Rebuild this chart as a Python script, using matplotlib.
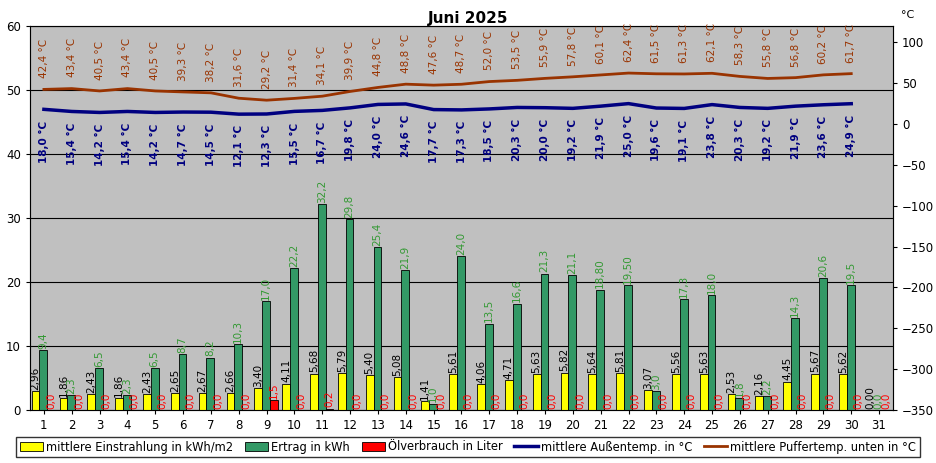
import matplotlib
matplotlib.use("Agg")
import matplotlib.pyplot as plt
import numpy as np

days = list(range(1, 32))
einstrahlung = [2.96,1.86,2.43,1.86,2.43,2.65,2.67,2.66,3.40,4.11,5.68,5.79,5.40,5.08,1.41,5.61,4.06,4.71,5.63,5.82,5.64,5.81,3.07,5.56,5.63,2.53,2.16,4.45,5.67,5.62,0.00]
ertrag = [9.4,2.3,6.5,2.3,6.5,8.7,8.2,10.3,17.0,22.2,32.2,29.8,25.4,21.9,1.0,24.0,13.5,16.6,21.3,21.1,18.80,19.50,3.0,17.3,18.0,1.8,2.2,14.3,20.6,19.5,0.0]
ertrag_lbl = ["9,4","2,3","6,5","2,3","6,5","8,7","8,2","10,3","17,0","22,2","32,2","29,8","25,4","21,9","1,0","24,0","13,5","16,6","21,3","21,1","18,80","19,50","3,0","17,3","18,0","1,8","2,2","14,3","20,6","19,5","0,0"]
oel = [0.0]*31
oel[8] = 1.5
oel[10] = 0.2
aussen = [18.0,15.4,14.2,15.4,14.2,14.7,14.5,12.1,12.3,15.5,16.7,19.8,24.0,24.6,17.7,17.3,18.5,20.3,20.0,19.2,21.9,25.0,19.6,19.1,23.8,20.3,19.2,21.9,23.6,24.9]
puffer = [42.4,43.4,40.5,43.4,40.5,39.3,38.2,31.6,29.2,31.4,34.1,39.9,44.8,48.8,47.6,48.7,52.0,53.5,55.9,57.8,60.1,62.4,61.5,61.3,62.1,58.3,55.8,56.8,60.2,61.7]

def de(v, n=1):
    return f"{v:.{n}f}".replace(".", ",")

fig = plt.figure(figsize=(9.36, 4.63), dpi=100)
ax = fig.add_axes([30/936, 1-410/463, 863/936, 384/463])
ax.set_facecolor("#C0C0C0")
x = np.array(days)
w = 0.28
ax.bar(x-0.3, einstrahlung, w, color="#FFFF00", edgecolor="black", linewidth=0.6, label="mittlere Einstrahlung in kWh/m2", zorder=3)
ax.bar(x-0.02, ertrag, w, color="#339966", edgecolor="black", linewidth=0.6, label="Ertrag in kWh", zorder=3)
ax.bar(x+0.26, oel, w, color="#FF0000", edgecolor="black", linewidth=0.6, label="Ölverbrauch in Liter", zorder=3)
for d, v in zip(days, einstrahlung):
    ax.text(d-0.3, v+0.2, de(v, 2), rotation=90, ha="center", va="bottom", fontsize=7.5, color="black", zorder=5)
for d, v, s in zip(days, ertrag, ertrag_lbl):
    ax.text(d-0.02, v+0.2, s, rotation=90, ha="center", va="bottom", fontsize=7.5, color="#339933", zorder=5)
for d, v in zip(days, oel):
    ax.text(d+0.26, v+0.2, de(v), rotation=90, ha="center", va="bottom", fontsize=7.5, color="#FF0000", zorder=5)
ax.set_ylim(0, 60)
ax.set_xlim(0.5, 31.5)
ax.set_yticks(range(0, 70, 10))
ax.yaxis.grid(True, color="black", linewidth=0.8)
ax.set_axisbelow(True)
ax.set_xticks(days)
ax.tick_params(labelsize=8.5, length=3)
for s in ax.spines.values():
    s.set_color("#808080")

ax2 = ax.twinx()
ax2.set_ylim(-350, 120)
ax2.set_yticks(range(-350, 101, 50))
ax2.tick_params(labelsize=8.5, length=3)
td = days[:30]
l1, = ax2.plot(td, aussen, color="#000080", linewidth=2.5, label="mittlere Außentemp. in °C", zorder=4)
l2, = ax2.plot(td, puffer, color="#993300", linewidth=2.0, label="mittlere Puffertemp. unten in °C", zorder=4)
for d, v in zip(td, aussen):
    ax2.annotate(de(v)+" °C", (d, v), xytext=(0, -8), textcoords="offset points", rotation=90, ha="center", va="top", fontsize=7.5, color="#000080", fontweight="bold")
for d, v in zip(td, puffer):
    ax2.annotate(de(v)+" °C", (d, v), xytext=(0, 8), textcoords="offset points", rotation=90, ha="center", va="bottom", fontsize=7.5, color="#993300")

fig.text(0.5, 1-18/463, "Juni 2025", ha="center", va="center", fontsize=11, fontweight="bold")
fig.text(908/936, 1-15/463, "°C", ha="center", va="center", fontsize=8)
h1, lb1 = ax.get_legend_handles_labels()
leg = fig.legend(h1+[l1, l2], lb1+[l1.get_label(), l2.get_label()], loc="center", bbox_to_anchor=(0.5, 1-447/463), ncol=5, fontsize=8.3, frameon=True, fancybox=False, edgecolor="black", handlelength=2.0, handleheight=0.8, handletextpad=0.3, columnspacing=1.0, borderpad=0.3)
fig.savefig("out.png", dpi=100)
